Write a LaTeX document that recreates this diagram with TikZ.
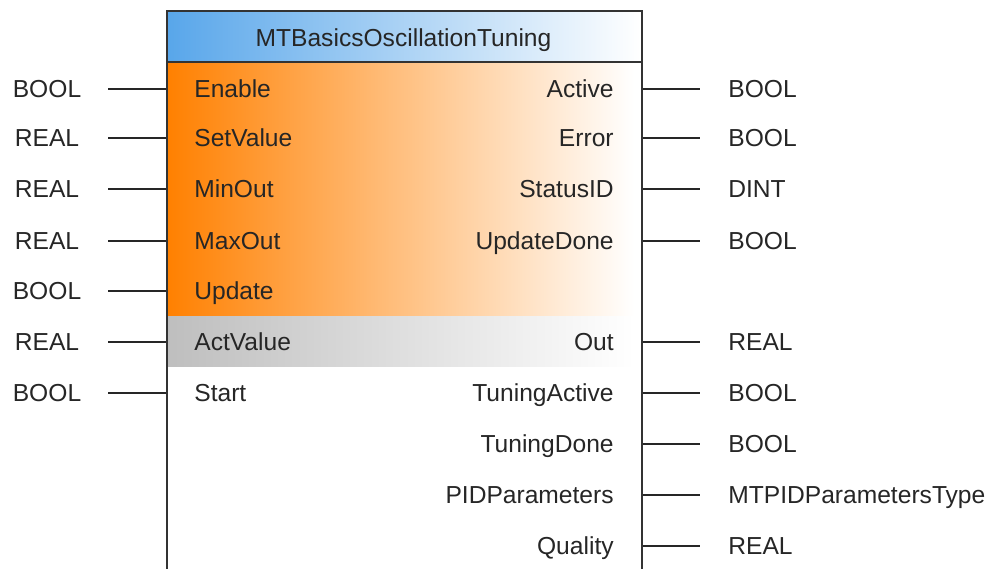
\documentclass[tikz,border=0pt]{standalone}
\usepackage{fontspec}
\setmainfont{Liberation Sans}
\usetikzlibrary{positioning}

\definecolor{fbblue}{RGB}{88,166,234}
\definecolor{fborange}{RGB}{255,128,0}
\definecolor{fbsalmon}{RGB}{255,196,182}
\definecolor{fbgray}{RGB}{190,190,190}

\begin{document}
\begin{tikzpicture}[
  x=0.02cm,
  y=-0.02cm,
  lbl/.style={
    inner sep=0pt,
    text height=12pt,
    text depth=2pt,
    font=\fontsize{14}{16}\selectfont,
    text=black!85
  },
  inpin/.style={lbl, anchor=west},
  outpin/.style={lbl, anchor=east},
  intype/.style={lbl},
  outtype/.style={lbl, anchor=west},
  pin/.style={
    line width=1.2pt,
    draw=black!85
  },
  frame/.style={
    line width=1.2pt,
    draw=black!80
  }
]
\useasboundingbox (0,0) rectangle (997,568);
\clip (0,0) rectangle (997,568);

% Shaded bands
\shade[left color=fbblue, right color=white] (166,10) rectangle (641,62);
\shade[left color=fborange, middle color=fbsalmon, right color=white]
  (166,62) rectangle (634,316);
\shade[left color=fbgray, right color=white] (166,316) rectangle (634,366);

% Function block
\node[
  frame,
  anchor=north west,
  inner sep=0pt,
  minimum width=9.5cm,
  minimum height=12.4cm
] (fb) at (166,10) {};

\coordinate (sepL) at (166,62);
\coordinate (sepR) at (641,62);
\draw[frame] (sepL) -- (sepR);

\node[lbl] (title) at (403.5,38) {MTBasicsOscillationTuning};

% Inputs
\node[inpin] (Enable) at (194,89) {Enable};
\node[inpin] (SetValue) at (194,138) {SetValue};
\node[inpin] (MinOut) at (194,189) {MinOut};
\node[inpin] (MaxOut) at (194,241) {MaxOut};
\node[inpin] (Update) at (194,291) {Update};
\node[inpin] (ActValue) at (194,342) {ActValue};
\node[inpin] (Start) at (194,393) {Start};

\node[intype] (tEnable) at (47,89) {BOOL};
\node[intype] (tSetValue) at (47,138) {REAL};
\node[intype] (tMinOut) at (47,189) {REAL};
\node[intype] (tMaxOut) at (47,241) {REAL};
\node[intype] (tUpdate) at (47,291) {BOOL};
\node[intype] (tActValue) at (47,342) {REAL};
\node[intype] (tStart) at (47,393) {BOOL};

\draw[pin] (Enable -| fb.west) -- ++(-58,0);
\draw[pin] (SetValue -| fb.west) -- ++(-58,0);
\draw[pin] (MinOut -| fb.west) -- ++(-58,0);
\draw[pin] (MaxOut -| fb.west) -- ++(-58,0);
\draw[pin] (Update -| fb.west) -- ++(-58,0);
\draw[pin] (ActValue -| fb.west) -- ++(-58,0);
\draw[pin] (Start -| fb.west) -- ++(-58,0);

% Outputs
\node[outpin] (Active) at (614,89) {Active};
\node[outpin] (Error) at (614,138) {Error};
\node[outpin] (StatusID) at (614,189) {StatusID};
\node[outpin] (UpdateDone) at (614,241) {UpdateDone};
\node[outpin] (Out) at (614,342) {Out};
\node[outpin] (TuningActive) at (614,393) {TuningActive};
\node[outpin] (TuningDone) at (614,444) {TuningDone};
\node[outpin] (PIDParameters) at (614,495) {PIDParameters};
\node[outpin] (Quality) at (614,546) {Quality};

\node[outtype] (tActive) at (728,89) {BOOL};
\node[outtype] (tError) at (728,138) {BOOL};
\node[outtype] (tStatusID) at (728,189) {DINT};
\node[outtype] (tUpdateDone) at (728,241) {BOOL};
\node[outtype] (tOut) at (728,342) {REAL};
\node[outtype] (tTuningActive) at (728,393) {BOOL};
\node[outtype] (tTuningDone) at (728,444) {BOOL};
\node[outtype] (tPIDParameters) at (728,495) {MTPIDParametersType};
\node[outtype] (tQuality) at (728,546) {REAL};

\draw[pin] (Active -| fb.east) -- ++(57,0);
\draw[pin] (Error -| fb.east) -- ++(57,0);
\draw[pin] (StatusID -| fb.east) -- ++(57,0);
\draw[pin] (UpdateDone -| fb.east) -- ++(57,0);
\draw[pin] (Out -| fb.east) -- ++(57,0);
\draw[pin] (TuningActive -| fb.east) -- ++(57,0);
\draw[pin] (TuningDone -| fb.east) -- ++(57,0);
\draw[pin] (PIDParameters -| fb.east) -- ++(57,0);
\draw[pin] (Quality -| fb.east) -- ++(57,0);

\end{tikzpicture}
\end{document}
